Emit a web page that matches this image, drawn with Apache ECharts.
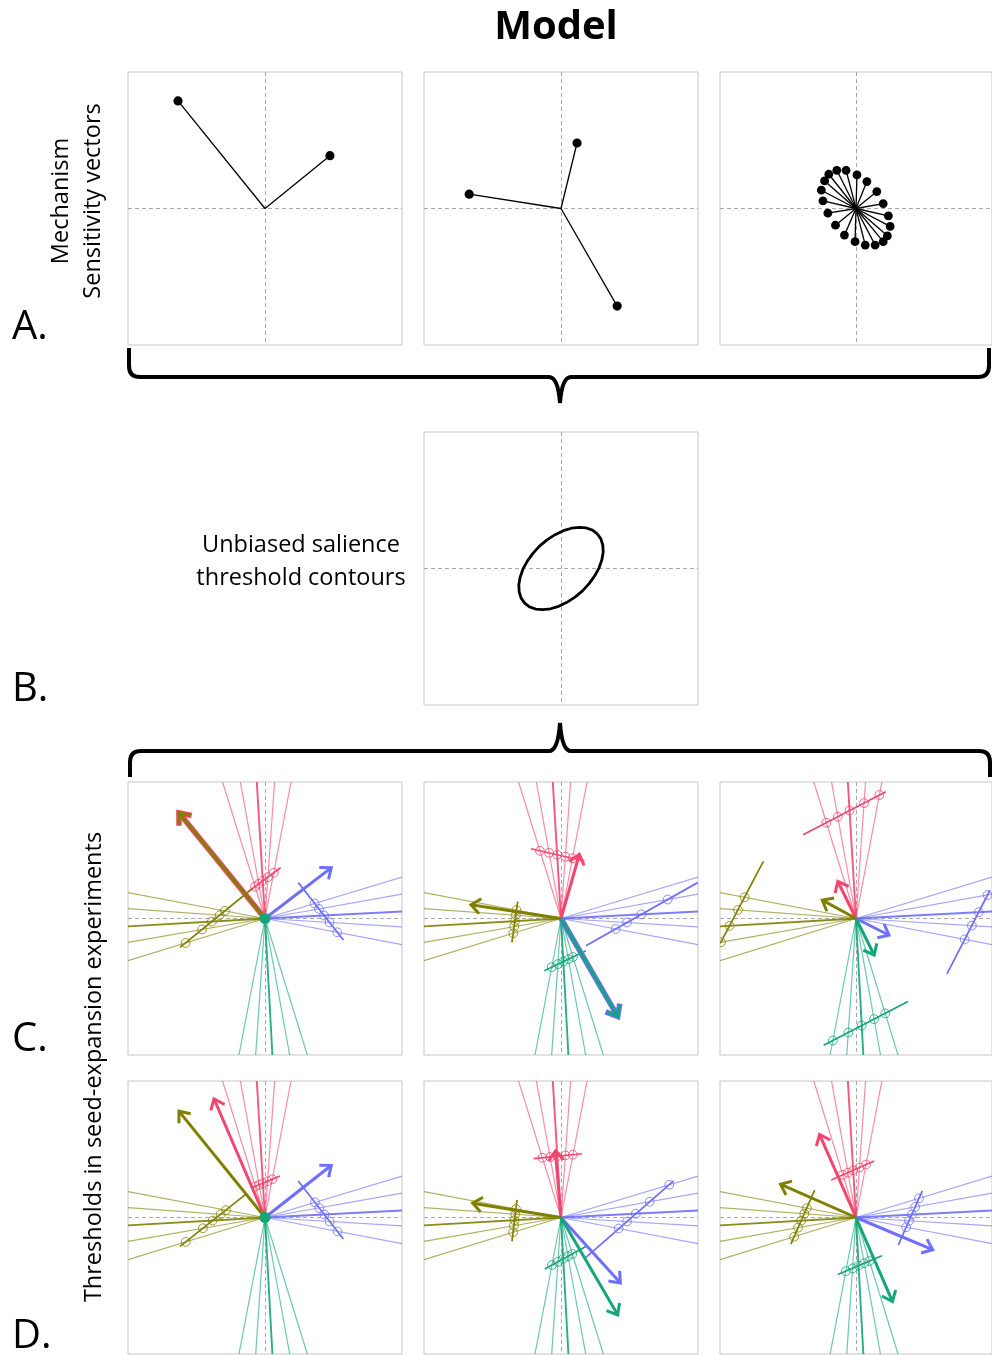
<!DOCTYPE html>
<html><head><meta charset="utf-8">
<script src="https://cdn.jsdelivr.net/npm/echarts@6/dist/echarts.min.js"></script>
<style>html,body{margin:0;padding:0;background:#fff}#c{width:992px;height:1355px}</style>
</head><body><div id="c"></div>
<script>
// ---------- DATA (unit coordinates, origin at panel centre) ----------
// A: mechanism sensitivity vectors
const vecA1 = [[-0.635,0.788],[0.474,0.387]];
const vecA2 = [[0.117,0.480],[-0.670,0.105],[0.410,-0.715]];
const vecA3 = [[-0.200,0.251],[-0.141,0.280],[-0.073,0.280],[0.007,0.246],[0.080,0.197],[0.153,0.124],[0.200,0.036],[0.238,-0.054],[0.251,-0.131],[0.231,-0.200],[0.200,-0.243],[0.141,-0.268],[0.068,-0.268],[-0.007,-0.243],[-0.085,-0.195],[-0.151,-0.122],[-0.207,-0.034],[-0.243,0.056],[-0.255,0.134],[-0.231,0.202]];
// B: unbiased salience threshold contour
const contourB = [[0.265,0.254],[0.230,0.281],[0.185,0.297],[0.134,0.302],[0.077,0.295],[0.017,0.277],[-0.043,0.248],[-0.102,0.210],[-0.157,0.164],[-0.205,0.111],[-0.246,0.054],[-0.278,-0.005],[-0.298,-0.063],[-0.308,-0.120],[-0.305,-0.172],[-0.291,-0.217],[-0.265,-0.254],[-0.230,-0.281],[-0.185,-0.297],[-0.134,-0.302],[-0.077,-0.295],[-0.017,-0.277],[0.043,-0.248],[0.102,-0.210],[0.157,-0.164],[0.205,-0.111],[0.246,-0.054],[0.278,0.005],[0.298,0.063],[0.308,0.120],[0.305,0.172],[0.291,0.217],[0.265,0.254]];
// C/D: fan line end points (same in every panel), groups: pink, olive, blue, green
const fanPink  = [[-0.31,1],[-0.18,1],[-0.06,1],[0.07,1],[0.19,1]];
const fanOlive = [[-1,0.19],[-1,0.073],[-1,-0.058],[-1,-0.175],[-1,-0.309]];
const fanBlue  = [[1,0.304],[1,0.178],[1,0.051],[1,-0.061],[1,-0.192]];
const fanGreen = [[-0.19,-1],[-0.068,-1],[0.054,-1],[0.18,-1],[0.309,-1]];
// threshold lines [pink, olive, blue, green]
const thrC1 = [[[-0.109,0.207],[0.114,0.372]],[[-0.620,-0.212],[-0.092,0.220]],[[0.243,0.263],[0.572,-0.158]],null];
const thrC2 = [[[-0.219,0.511],[0.170,0.421]],[[-0.358,-0.175],[-0.316,0.124]],[[0.998,0.263],[0.182,-0.200]],[[-0.122,-0.382],[0.182,-0.236]]];
const thrC3 = [[[-0.389,0.613],[0.219,0.929]],[[-0.998,-0.182],[-0.681,0.418]],[[0.669,-0.406],[0.985,0.207]],[[-0.238,-0.929],[0.382,-0.608]]];
const thrD1 = [[[-0.092,0.219],[0.109,0.304]],[[-0.620,-0.212],[-0.141,0.170]],[[0.243,0.268],[0.572,-0.158]],null];
const thrD2 = [[[-0.200,0.431],[0.153,0.467]],[[-0.358,-0.175],[-0.321,0.129]],[[0.182,-0.292],[0.822,0.268]],[[-0.119,-0.377],[0.182,-0.212]]];
const thrD3 = [[[-0.182,0.275],[0.134,0.414]],[[-0.479,-0.195],[-0.304,0.200]],[[0.311,-0.202],[0.487,0.195]],[[-0.134,-0.418],[0.190,-0.280]]];
// threshold points (open circles) [pink, olive, blue, green]
const circC1 = [[[-0.073,0.234],[-0.046,0.254],[-0.017,0.276],[0.021,0.303],[0.064,0.335]],[[-0.293,0.056],[-0.331,0.024],[-0.388,-0.023],[-0.459,-0.080],[-0.580,-0.179]],[[0.362,0.110],[0.394,0.070],[0.431,0.022],[0.471,-0.029],[0.528,-0.101]],[]];
const circC2 = [[[-0.154,0.496],[-0.087,0.481],[-0.028,0.467],[0.032,0.453],[0.084,0.441]],[[-0.325,0.062],[-0.330,0.024],[-0.336,-0.019],[-0.342,-0.060],[-0.348,-0.108]],[[0.779,0.139],[0.587,0.030],[0.482,-0.029],[0.399,-0.077]],[[-0.068,-0.356],[-0.023,-0.334],[0.017,-0.315],[0.054,-0.298],[0.087,-0.282]]];
const circC3 = [[[-0.218,0.702],[-0.134,0.745],[-0.047,0.791],[0.059,0.846],[0.172,0.905]],[[-0.819,0.156],[-0.868,0.063],[-0.930,-0.054],[-0.993,-0.174]],[[0.967,0.172],[0.902,0.046],[0.852,-0.052],[0.799,-0.153]],[[-0.170,-0.894],[-0.057,-0.835],[0.042,-0.784],[0.133,-0.737],[0.215,-0.695]]];
const circD1 = [[[-0.071,0.228],[-0.043,0.240],[-0.015,0.252],[0.019,0.266],[0.053,0.280]],[[-0.285,0.054],[-0.324,0.024],[-0.382,-0.022],[-0.453,-0.079],[-0.579,-0.179]],[[0.365,0.111],[0.396,0.070],[0.433,0.022],[0.472,-0.029],[0.529,-0.102]],[]];
const circD2 = [[[-0.136,0.438],[-0.080,0.443],[-0.027,0.449],[0.032,0.455],[0.087,0.460]],[[-0.329,0.062],[-0.334,0.024],[-0.339,-0.020],[-0.344,-0.060],[-0.350,-0.108]],[[0.790,0.240],[0.647,0.115],[0.546,0.028],[0.482,-0.029],[0.421,-0.081]],[[-0.066,-0.348],[-0.022,-0.324],[0.016,-0.303],[0.051,-0.284],[0.083,-0.267]]];
const circD3 = [[[-0.097,0.313],[-0.059,0.329],[-0.021,0.346],[0.026,0.366],[0.074,0.388]],[[-0.362,0.069],[-0.380,0.028],[-0.403,-0.023],[-0.426,-0.074],[-0.455,-0.141]],[[0.463,0.141],[0.435,0.077],[0.410,0.021],[0.390,-0.024],[0.369,-0.071]],[[-0.075,-0.393],[-0.025,-0.372],[0.019,-0.353],[0.060,-0.335],[0.099,-0.319]]];
// sensitivity arrows [pink, olive, blue, green]
const arrC1 = [[-0.628,0.774],[-0.628,0.774],[0.484,0.372],null];
const arrC2 = [[0.134,0.470],[-0.657,0.100],[0.414,-0.718],[0.414,-0.718]];
const arrC3 = [[-0.134,0.272],[-0.248,0.134],[0.243,-0.122],[0.134,-0.268]];
const arrD1 = [[-0.372,0.869],[-0.628,0.779],[0.484,0.382],null];
const arrD2 = [[-0.041,0.487],[-0.645,0.105],[0.433,-0.479],[0.414,-0.713]];
const arrD3 = [[-0.268,0.608],[-0.555,0.243],[0.564,-0.236],[0.268,-0.616]];
const centreDot = {C1:true, C2:false, C3:false, D1:true, D2:false, D3:false};
const labels = {title:'Model', rowA:'A.', rowB:'B.', rowC:'C.', rowD:'D.', ylabA1:'Mechanism', ylabA2:'Sensitivity vectors', ylabCD:'Thresholds in seed-expansion experiments', labB1:'Unbiased salience', labB2:'threshold contours'};

// ---------- LAYOUT / STYLE ----------
const COLORS = ['#F2466E','#808000','#6E6EFF','#14A578'];
const FANS = [fanPink, fanOlive, fanBlue, fanGreen];
const PW = 274, PH = 273;
const layout = {A1:[128,72],A2:[424,72],A3:[720,72],B:[424,432],C1:[128,782],C2:[424,782],C3:[720,782],D1:[128,1081],D2:[424,1081],D3:[720,1081]};
const order = ['A1','A2','A3','B','C1','C2','C3','D1','D2','D3'];
const FONT = '"Open Sans", "DejaVu Sans", sans-serif';

const axisCommon = {type:'value', min:-1, max:1, interval:1,
  axisLine:{show:false}, axisTick:{show:false}, axisLabel:{show:false},
  splitLine:{show:true, showMinLine:false, showMaxLine:false, lineStyle:{color:'#a9a9a9', type:[4,3], width:1}}};

function vecSeries(idx, vecs, r, lw){
  const prims = [];
  vecs.forEach(v => prims.push({k:'seg', p:v}));
  vecs.forEach(v => prims.push({k:'dot', p:v}));
  return {type:'custom', coordinateSystem:'cartesian2d', xAxisIndex:idx, yAxisIndex:idx, silent:true, clip:true,
    data: prims.map(() => [0,0]),
    renderItem: function(params, api){
      const p = prims[params.dataIndex];
      const o = api.coord([0,0]), e = api.coord(p.p);
      if (p.k === 'seg') return {type:'line', shape:{x1:o[0],y1:o[1],x2:e[0],y2:e[1]}, style:{stroke:'#000', lineWidth:lw}};
      return {type:'circle', shape:{cx:e[0],cy:e[1],r:r}, style:{fill:'#000'}};
    }};
}

function cdSeries(idx, thr, circ, arr, dot){
  const prims = [];
  FANS.forEach((fan,g) => fan.forEach((p,i) => prims.push({k:'fan', g:g, p:p, bold:i===2})));
  thr.forEach((t,g) => { if (t) prims.push({k:'thr', g:g, a:t[0], b:t[1]}); });
  circ.forEach((cs,g) => cs.forEach(c => prims.push({k:'circ', g:g, p:c})));
  arr.forEach((a,g) => { if (a) {
    const dup = arr.some((o,h) => h>g && o && o[0]===a[0] && o[1]===a[1]);
    prims.push({k:'arrow', g:g, p:a, wide:dup}); }});
  if (dot) prims.push({k:'dot', g:3});
  return {type:'custom', coordinateSystem:'cartesian2d', xAxisIndex:idx, yAxisIndex:idx, silent:true, clip:true,
    data: prims.map(() => [0,0]),
    renderItem: function(params, api){
      const p = prims[params.dataIndex];
      const o = api.coord([0,0]);
      const col = COLORS[p.g];
      if (p.k === 'fan'){
        const e = api.coord(p.p);
        return {type:'line', shape:{x1:o[0],y1:o[1],x2:e[0],y2:e[1]}, style:{stroke:col, lineWidth:p.bold?1.9:1.2, opacity:p.bold?0.9:0.62}};
      }
      if (p.k === 'thr'){
        const a = api.coord(p.a), b = api.coord(p.b);
        return {type:'line', shape:{x1:a[0],y1:a[1],x2:b[0],y2:b[1]}, style:{stroke:col, lineWidth:1.7}};
      }
      if (p.k === 'circ'){
        const c = api.coord(p.p);
        return {type:'circle', shape:{cx:c[0],cy:c[1],r:4.4}, style:{stroke:col, fill:'none', lineWidth:1, opacity:0.8}};
      }
      if (p.k === 'arrow'){
        const e = api.coord(p.p);
        const w = p.wide ? 5.5 : 3;
        const dx = e[0]-o[0], dy = e[1]-o[1], L = Math.hypot(dx,dy), ux = dx/L, uy = dy/L;
        const h = p.wide ? 13 : 12, c = Math.cos(0.68), s = Math.sin(0.68);
        const l1 = [e[0]-h*(ux*c - uy*s), e[1]-h*(uy*c + ux*s)];
        const l2 = [e[0]-h*(ux*c + uy*s), e[1]-h*(uy*c - ux*s)];
        return {type:'group', children:[
          {type:'line', shape:{x1:o[0],y1:o[1],x2:e[0]-ux*1.5,y2:e[1]-uy*1.5}, style:{stroke:col, lineWidth:w}},
          {type:'polyline', shape:{points:[l1,e,l2]}, style:{stroke:col, lineWidth:w, fill:'none', lineJoin:'miter'}}
        ]};
      }
      return {type:'circle', shape:{cx:o[0],cy:o[1],r:5.5}, style:{fill:col}};
    }};
}

function txt(text, x, y, size, opts){
  opts = opts || {};
  return {type:'text', x:x, y:y, rotation:opts.rot||0, z:10,
    style:{text:text, x:0, y:0, font:(opts.bold?'bold ':'') + size + 'px ' + FONT, fill:'#000',
      align:opts.align||'center', textAlign:opts.align||'center', verticalAlign:'middle', textVerticalAlign:'middle'}};
}

// brace made of straight lines and quadratic curves
const braceStyle = {stroke:'#000', lineWidth:4, fill:null, lineCap:'butt'};
function seg(x1,y1,x2,y2){ return {type:'line', z:10, shape:{x1:x1,y1:y1,x2:x2,y2:y2}, style:braceStyle}; }
function qc(x1,y1,cx,cy,x2,y2){ return {type:'bezierCurve', z:10, shape:{x1:x1,y1:y1,cpx1:cx,cpy1:cy,x2:x2,y2:y2}, style:braceStyle}; }
function brace(xl, xr, xm, yBar, yEnd, yTip){
  const d = yEnd < yBar ? -1 : 1, r = 11;
  return [
    seg(xl, yEnd, xl, yBar + d*r),
    qc(xl, yBar + d*r, xl, yBar, xl + r, yBar),
    seg(xl + r, yBar, xm - 11, yBar),
    qc(xm - 11, yBar, xm - 2, yBar, xm, yTip),
    qc(xm, yTip, xm + 2, yBar, xm + 11, yBar),
    seg(xm + 11, yBar, xr - r, yBar),
    qc(xr - r, yBar, xr, yBar, xr, yBar + d*r),
    seg(xr, yBar + d*r, xr, yEnd)
  ];
}

const series = [
  vecSeries(0, vecA1, 4.6, 1.3),
  vecSeries(1, vecA2, 4.6, 1.3),
  vecSeries(2, vecA3, 4.4, 1.3),
  {type:'line', xAxisIndex:3, yAxisIndex:3, data:contourB, showSymbol:false, symbol:'none', smooth:false, silent:true,
    lineStyle:{color:'#000', width:2.8, join:'round'}},
  cdSeries(4, thrC1, circC1, arrC1, centreDot.C1),
  cdSeries(5, thrC2, circC2, arrC2, centreDot.C2),
  cdSeries(6, thrC3, circC3, arrC3, centreDot.C3),
  cdSeries(7, thrD1, circD1, arrD1, centreDot.D1),
  cdSeries(8, thrD2, circD2, arrD2, centreDot.D2),
  cdSeries(9, thrD3, circD3, arrD3, centreDot.D3)
];

const option = {
  animation:false,
  backgroundColor:'#fff',
  grid: order.map(k => ({left:layout[k][0], top:layout[k][1], width:PW, height:PH, show:true, borderColor:'#c6c6c6', borderWidth:1, containLabel:false})),
  xAxis: order.map((k,i) => Object.assign({}, axisCommon, {gridIndex:i})),
  yAxis: order.map((k,i) => Object.assign({}, axisCommon, {gridIndex:i})),
  series: series,
  graphic: [
    txt(labels.title, 556, 28, 40, {bold:true}),
    txt(labels.rowA, 12, 328, 40, {align:'left'}),
    txt(labels.rowB, 12, 690, 40, {align:'left'}),
    txt(labels.rowC, 12, 1040, 40, {align:'left'}),
    txt(labels.rowD, 12, 1337, 40, {align:'left'}),
    txt(labels.ylabA1, 61, 201, 23.5, {rot:Math.PI/2}),
    txt(labels.ylabA2, 93, 201, 23.5, {rot:Math.PI/2}),
    txt(labels.ylabCD, 94, 1067, 23.5, {rot:Math.PI/2}),
    txt(labels.labB1, 301, 545, 23.5),
    txt(labels.labB2, 301, 578, 23.5)
  ].concat(brace(129, 989, 560, 377, 348, 403), brace(130, 990, 560, 751, 777, 723))
};
const chart = echarts.init(document.getElementById('c'), null, {renderer:'canvas', width:992, height:1355});
chart.setOption(option);
</script></body></html>
